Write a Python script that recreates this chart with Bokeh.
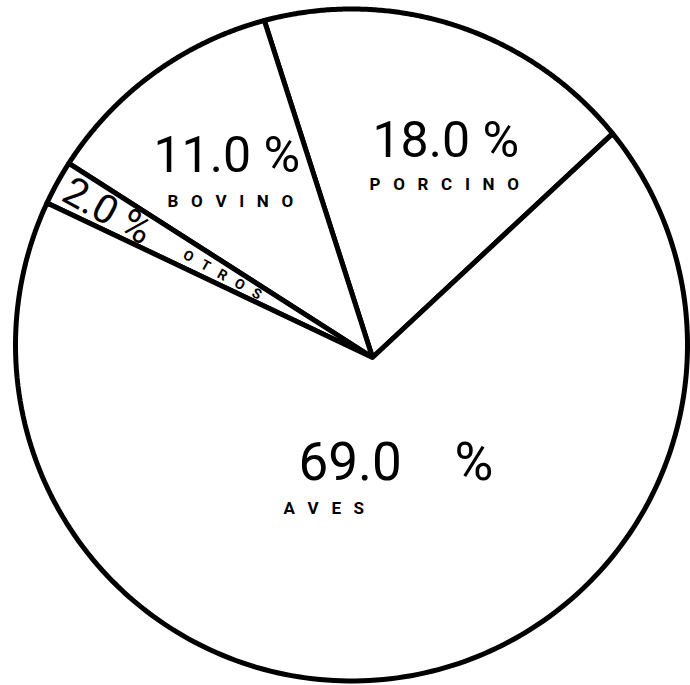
import numpy as np
from bokeh.plotting import figure
from bokeh.models import Range1d
from bokeh.embed import file_html
from bokeh.resources import INLINE
from bokeh.core.properties import value

# ---- data ----
categories = ["PORCINO", "BOVINO", "OTROS", "AVES"]
shares = [18.0, 11.0, 2.0, 69.0]
value_labels = ["18.0 %", "11.0 %", "2.0 %", "69.0 %"]

# ---- layout (page pixel space) ----
CX, CY, R = 351.0, 344.5, 336.0      # outer circle
AX, AY = 372.0, 357.0                # meeting point of the slices
START_DEG = 43.0
FONT = value("Roboto")
NB = "\u00a0"

def spaced(word, n=3):
    return (NB * n).join(word)

def rim_distance(theta):
    ux, uy = np.cos(theta), -np.sin(theta)
    dx, dy = AX - CX, AY - CY
    b = ux * dx + uy * dy
    c = dx * dx + dy * dy - R * R
    return -b + np.sqrt(b * b - c)

p = figure(width=690, height=685, output_backend="svg", toolbar_location=None,
           x_range=Range1d(0, 690), y_range=Range1d(685, 0),
           x_axis_type=None, y_axis_type=None, min_border=0)
p.outline_line_color = None
p.background_fill_color = "white"
p.border_fill_color = "white"

cum = np.concatenate([[0.0], np.cumsum(shares)])
xs, ys, mids = [], [], []
for i in range(len(shares)):
    t0 = np.radians(START_DEG + 360.0 * cum[i] / 100.0)
    t1 = np.radians(START_DEG + 360.0 * cum[i + 1] / 100.0)
    th = np.linspace(t0, t1, 200)
    d = rim_distance(th)
    xs.append([AX] + list(AX + d * np.cos(th)))
    ys.append([AY] + list(AY - d * np.sin(th)))
    mids.append(0.5 * (t0 + t1))

p.patches(xs, ys, fill_color="white", line_color="black", line_width=5,
          line_join="round")

# labels of the large slices: (value x, value y, size, name x, name y)
big = {"PORCINO": (372, 139, "50px", 369, 183),
       "BOVINO": (153, 154, "50px", 167, 200),
       "AVES": (298, 461, "53px", 283, 507)}
for i, cat in enumerate(categories):
    if cat in big:
        vx, vy, size, nx, ny = big[cat]
        txt = value_labels[i]
        if cat == "AVES":
            txt = txt.replace(" ", NB * 4)
        p.text(x=[vx], y=[vy], text=[txt], text_font=FONT, text_font_size=size,
               text_align="left", text_baseline="alphabetic", text_color="black")
        p.text(x=[nx], y=[ny], text=[spaced(cat)], text_font=FONT, text_font_size="17px",
               text_font_style="bold", text_align="left", text_baseline="alphabetic",
               text_color="black")

# label of the thin slice, written along it
k = categories.index("OTROS")
m = mids[k]
rot = m - np.pi
d_val, d_name = 350.0, 215.0
p.text(x=[AX + d_val * np.cos(m)], y=[AY - d_val * np.sin(m)], text=[value_labels[k]],
       text_font=FONT, text_font_size="40px", text_align="left", text_baseline="middle",
       angle=rot, text_color="black")
p.text(x=[AX + d_name * np.cos(m)], y=[AY - d_name * np.sin(m)], text=[spaced(categories[k])],
       text_font=FONT, text_font_size="14px", text_font_style="bold", text_align="left",
       text_baseline="middle", angle=rot, text_color="black")

open("out.html", "w").write(file_html(p, INLINE))
